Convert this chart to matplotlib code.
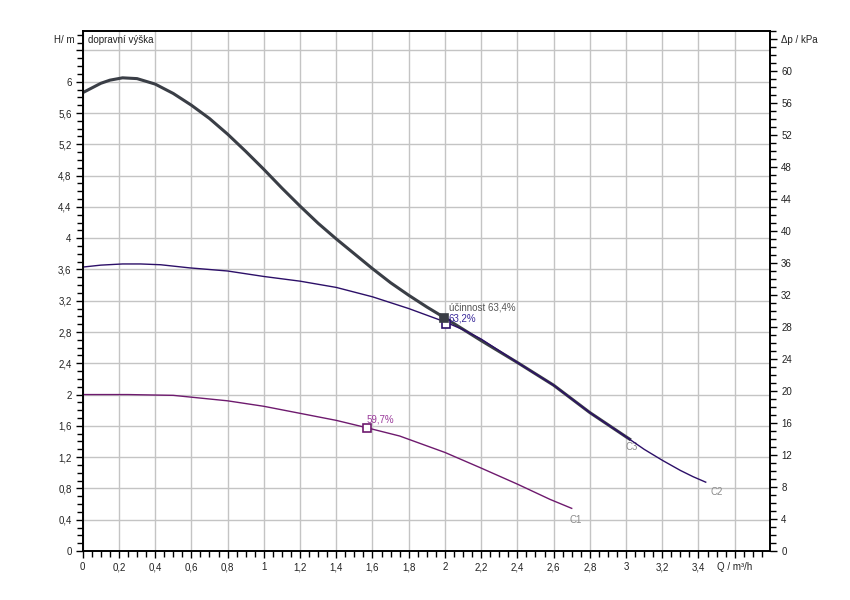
import matplotlib
matplotlib.use("Agg")
import matplotlib.pyplot as plt
import numpy as np
from matplotlib.ticker import MultipleLocator, FuncFormatter

# pump curves, Q in m3/h, H in m
q_c3 = [0, 0.05, 0.1, 0.15, 0.22, 0.3, 0.4, 0.5, 0.6, 0.7, 0.8, 0.9, 1.0, 1.1, 1.2, 1.3,
        1.4, 1.5, 1.6, 1.7, 1.8, 1.9, 2.0, 2.2, 2.4, 2.6, 2.8, 3.0, 3.02]
h_c3 = [5.86, 5.92, 5.98, 6.02, 6.05, 6.04, 5.97, 5.85, 5.70, 5.53, 5.33, 5.11, 4.88, 4.64,
        4.41, 4.19, 3.99, 3.80, 3.61, 3.43, 3.27, 3.12, 2.98, 2.69, 2.41, 2.12, 1.77, 1.46, 1.43]

q_c2 = [0, 0.1, 0.22, 0.32, 0.43, 0.59, 0.8, 1.0, 1.2, 1.4, 1.6, 1.8, 2.0, 2.1, 2.2, 2.4,
        2.6, 2.8, 3.0, 3.1, 3.2, 3.3, 3.37, 3.44]
h_c2 = [3.63, 3.655, 3.67, 3.67, 3.66, 3.62, 3.58, 3.51, 3.45, 3.37, 3.25, 3.10, 2.93, 2.83,
        2.71, 2.41, 2.12, 1.77, 1.46, 1.30, 1.16, 1.03, 0.95, 0.88]

q_c1 = [0, 0.25, 0.5, 0.8, 1.0, 1.2, 1.4, 1.57, 1.75, 2.0, 2.2, 2.4, 2.58, 2.7]
h_c1 = [2.0, 2.0, 1.99, 1.92, 1.85, 1.76, 1.67, 1.575, 1.47, 1.26, 1.06, 0.855, 0.66, 0.545]

# best efficiency points
bep_q = [1.57, 2.005, 1.997]
bep_h = [1.575, 2.90, 2.98]
bep_txt = ["59,7%", "63,2%", "účinnost 63,4%"]

names = ["C1", "C2", "C3"]
name_pos = [(2.72, 0.4), (3.5, 0.75), (3.03, 1.33)]

colors = ["#6e1a6e", "#2c0f68", "#3a3e46"]
kpa_per_m = 9.78

plt.rcParams['font.family'] = ['Liberation Sans', 'DejaVu Sans']

fig = plt.figure(figsize=(8.5, 6), dpi=100)
ax = fig.add_axes([0.0973, 0.0817, 0.8086, 0.8663])
ax2 = ax.twinx()

ax.set_xlim(0, 3.795)
ax.set_ylim(0, 65 / kpa_per_m)
ax2.set_ylim(0, 65)

ax.plot(q_c1, h_c1, color=colors[0], lw=1.0, zorder=3)
ax.plot(q_c3, h_c3, color=colors[2], lw=2.2, zorder=3, solid_joinstyle="round")
ax.plot(q_c2, h_c2, color=colors[1], lw=1.0, zorder=4)

for i in range(3):
    ax.plot(bep_q[i], bep_h[i], marker="s", ms=5.5, mfc="white" if i < 2 else "#3a3e46",
            mec=colors[i], mew=1.2, zorder=5)
    ax.text(name_pos[i][0], name_pos[i][1], names[i], color="#8a8a8a", fontsize=7,
            ha="center", va="center")
ax.text(1.57, 1.62, bep_txt[0], color="#9a3a9a", fontsize=7, ha="left", va="bottom")
ax.text(2.02, 2.97, bep_txt[1], color="#3a2a9a", fontsize=7, ha="left", va="center")
ax.text(2.02, 3.05, bep_txt[2], color="#555555", fontsize=7, ha="left", va="bottom")

# ticks and grid
ax.xaxis.set_major_locator(MultipleLocator(0.2))
ax.xaxis.set_minor_locator(MultipleLocator(0.05))
ax.yaxis.set_major_locator(MultipleLocator(0.4))
ax.yaxis.set_minor_locator(MultipleLocator(0.1))
ax2.yaxis.set_major_locator(MultipleLocator(4))
ax2.yaxis.set_minor_locator(MultipleLocator(1))
ax.grid(True, which="major", color="#c4c4c4", lw=1.0)
ax.set_axisbelow(True)


def comma(v):
    s = f"{v:.1f}".rstrip("0").rstrip(".")
    return s.replace(".", ",")


ax.xaxis.set_major_formatter(FuncFormatter(
    lambda v, p: "Q / m³/h" if abs(v - 3.6) < 1e-6 else comma(v)))
ax.yaxis.set_major_formatter(FuncFormatter(
    lambda v, p: "" if v > 6.2 else comma(v)))
ax2.yaxis.set_major_formatter(FuncFormatter(
    lambda v, p: "Δp / kPa" if abs(v - 64) < 1e-6 else f"{v:.0f}"))

for a in (ax, ax2):
    a.tick_params(which="both", direction="out", labelsize=7, labelcolor="#222222",
                  color="black", width=1)
    a.tick_params(which="major", length=5, pad=3)
    a.tick_params(which="minor", length=4)
    for sp in a.spines.values():
        sp.set_linewidth(1.2)

ax.text(-0.012, 0.9835, "H/ m", transform=ax.transAxes, fontsize=7, ha="right", va="center",
        color="#222222")
ax.text(0.008, 0.9835, "dopravní výška", transform=ax.transAxes, fontsize=7, ha="left",
        va="center", color="#222222")

fig.savefig("out.png", dpi=100)
